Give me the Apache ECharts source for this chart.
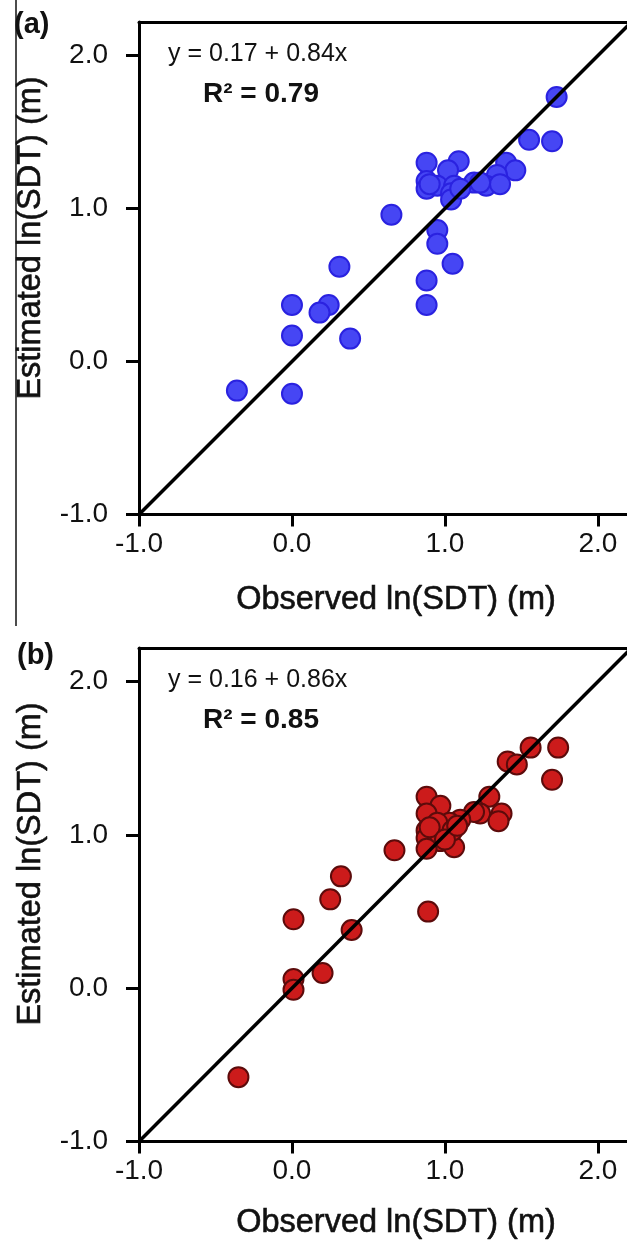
<!DOCTYPE html>
<html>
<head>
<meta charset="utf-8">
<script src="https://cdn.jsdelivr.net/npm/echarts@6/dist/echarts.min.js"></script>
<style>
html,body{margin:0;padding:0;background:#fff;}
#chart{width:627px;height:1240px;}
</style>
</head>
<body>
<div id="chart"></div>
<script>
// ---- data ----
const tickValues = [-1, 0, 1, 2];
const tickLabels = ['-1.0', '0.0', '1.0', '2.0'];
const oneToOne = [-1, 2.4];

// Panel (a)
const obsA = [1.73, 1.55, 1.70, 0.88, 1.09, 1.02, 1.40, 1.46, 1.34, 0.88, 0.88, 0.95, 1.06, 1.19, 1.27, 1.36, 1.23, 1.04, 1.04, 0.90, 1.10, 0.65, 0.95, 0.95, 1.05, 0.88, 0.88, 0.31, 0.00, 0.24, 0.18, 0.00, 0.38, -0.36, 0.00];
const estA = [1.73, 1.45, 1.44, 1.30, 1.31, 1.25, 1.30, 1.25, 1.22, 1.18, 1.13, 1.15, 1.15, 1.17, 1.15, 1.16, 1.17, 1.10, 1.06, 1.16, 1.13, 0.96, 0.86, 0.77, 0.64, 0.53, 0.37, 0.62, 0.37, 0.37, 0.32, 0.17, 0.15, -0.19, -0.21];

// Panel (b)
const obsB = [1.56, 1.74, 1.41, 1.47, 1.70, 0.88, 1.29, 0.97, 0.88, 1.23, 1.37, 1.35, 1.19, 1.10, 1.03, 0.95, 0.88, 0.88, 0.97, 0.88, 1.06, 1.05, 0.90, 1.00, 1.08, 0.67, 0.32, 0.25, 0.01, 0.89, 0.39, 0.20, 0.01, 0.01, -0.35];
const estB = [1.57, 1.57, 1.48, 1.46, 1.36, 1.25, 1.25, 1.19, 1.14, 1.14, 1.14, 1.09, 1.15, 1.10, 1.08, 1.08, 1.03, 0.98, 0.96, 0.91, 0.92, 1.03, 1.05, 0.97, 1.06, 0.90, 0.73, 0.58, 0.45, 0.50, 0.38, 0.10, 0.06, -0.01, -0.58];

const eqA = 'y = 0.17 + 0.84x', r2A = 'R² = 0.79';
const eqB = 'y = 0.16 + 0.86x', r2B = 'R² = 0.85';

// ---- build ----
const FONT = '"Liberation Sans", Arial, Helvetica, sans-serif';
const zip = (a, b) => a.map((v, i) => [v, b[i]]);
const fmt = v => { const i = tickValues.indexOf(Math.round(v)); return i >= 0 ? tickLabels[i] : ''; };

const grids = [
  { left: 139, top: 22, right: 0, height: 492.5 },
  { left: 139, top: 648, right: 0, height: 493.5 }
];

function xAx(gi) {
  return {
    type: 'value', gridIndex: gi, min: -1, max: 2.19, position: 'bottom',
    axisLine: { show: true, onZero: false, lineStyle: { color: '#000', width: 3 } },
    axisTick: { show: true, inside: false, length: 12, lineStyle: { color: '#000', width: 3 }, customValues: tickValues },
    axisLabel: { show: true, margin: 16, fontSize: 28, color: '#111', fontFamily: FONT, customValues: tickValues, formatter: fmt },
    splitLine: { show: false }
  };
}
function xTop(gi) {
  return {
    type: 'value', gridIndex: gi, min: -1, max: 2.19, position: 'top',
    axisLine: { show: true, onZero: false, lineStyle: { color: '#000', width: 3 } },
    axisTick: { show: false }, axisLabel: { show: false }, splitLine: { show: false }
  };
}
function yAx(gi, max) {
  return {
    type: 'value', gridIndex: gi, min: -1, max: max,
    axisLine: { show: true, onZero: false, lineStyle: { color: '#000', width: 3 } },
    axisTick: { show: true, inside: false, length: 13, lineStyle: { color: '#000', width: 3 }, customValues: tickValues },
    axisLabel: { show: true, margin: 31, fontSize: 28, color: '#111', fontFamily: FONT, customValues: tickValues, formatter: fmt },
    splitLine: { show: false }
  };
}

function scatter(gi, obs, est, fill, border) {
  return {
    type: 'scatter', xAxisIndex: gi * 2, yAxisIndex: gi, data: zip(obs, est),
    symbol: 'circle', symbolSize: 20,
    itemStyle: { color: fill, borderColor: border, borderWidth: 2, opacity: 1 },
    z: 3
  };
}
function refLine(gi) {
  return {
    type: 'line', xAxisIndex: gi * 2, yAxisIndex: gi, data: zip(oneToOne, oneToOne),
    symbol: 'none', clip: true, lineStyle: { color: '#000', width: 3.5 }, z: 4, silent: true
  };
}

function txt(x, y, s, size, weight, align, rot, strokeW) {
  const style = { text: s, fill: '#111', font: (weight || 'normal') + ' ' + size + 'px ' + FONT,
                  textAlign: align || 'left', textVerticalAlign: 'middle' };
  if (strokeW) { style.stroke = '#111'; style.lineWidth = strokeW; }
  return { type: 'text', x: x, y: y, rotation: rot || 0, z: 10, style: style };
}

const option = {
  backgroundColor: '#fff',
  animation: false,
  grid: grids,
  xAxis: [xAx(0), xTop(0), xAx(1), xTop(1)],
  yAxis: [yAx(0, 2.22), yAx(1, 2.22)],
  series: [
    scatter(0, obsA, estA, '#4646f4', '#2a22e0'),
    refLine(0),
    scatter(1, obsB, estB, '#cc1b1b', '#5c0b0b'),
    refLine(1)
  ],
  graphic: [
    { type: 'line', shape: { x1: 16, y1: 0, x2: 16, y2: 626 }, style: { stroke: '#111', lineWidth: 1.5 }, z: 1 },
    txt(14, 25, '(a)', 29, 'bold'),
    txt(17, 656, '(b)', 29, 'bold'),
    txt(168, 54, eqA, 25, 'normal'),
    txt(203, 94, r2A, 28, 'bold'),
    txt(168, 680, eqB, 25, 'normal'),
    txt(203, 720, r2B, 28, 'bold'),
    txt(31, 238, 'Estimated ln(SDT) (m)', 32.5, 'normal', 'center', Math.PI / 2, 0.6),
    txt(31, 864, 'Estimated ln(SDT) (m)', 32.5, 'normal', 'center', Math.PI / 2, 0.6),
    txt(396, 600, 'Observed ln(SDT) (m)', 32.5, 'normal', 'center', 0, 0.6),
    txt(396, 1223, 'Observed ln(SDT) (m)', 32.5, 'normal', 'center', 0, 0.6)
  ]
};

const chart = echarts.init(document.getElementById('chart'), null, { renderer: 'canvas' });
chart.setOption(option);
</script>
</body>
</html>
